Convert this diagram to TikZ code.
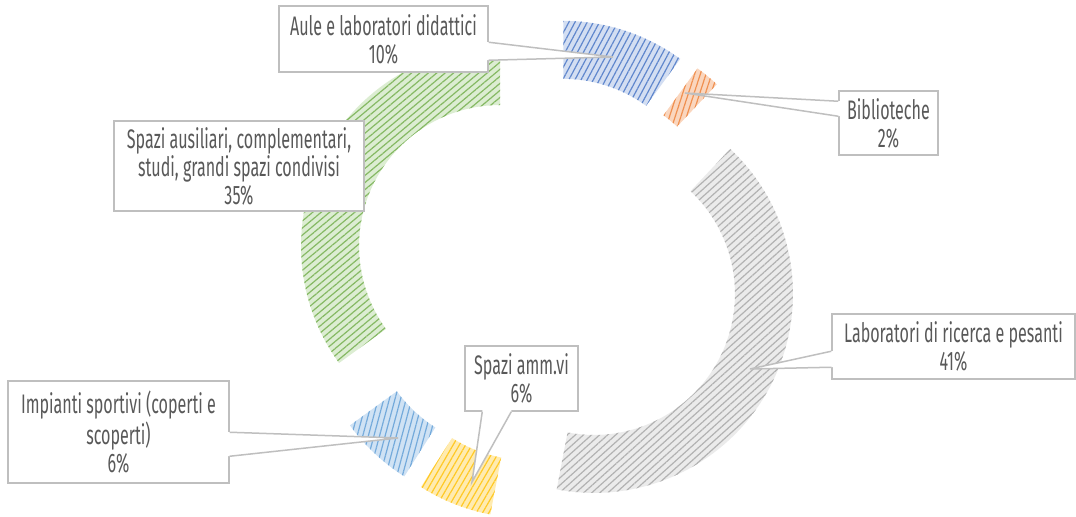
\documentclass[tikz,border=0pt]{standalone}
\usepackage{fontspec}
\setmainfont[FakeStretch=0.6]{Fira Sans}
\usetikzlibrary{calc,patterns.meta}
\definecolor{txtgray}{HTML}{595959}
\definecolor{linegray}{HTML}{BFBFBF}
\definecolor{auledk}{HTML}{4472C4}
\definecolor{aulelt}{HTML}{D3DEF2}
\definecolor{bibdk}{HTML}{ED7D31}
\definecolor{biblt}{HTML}{FAD6BE}
\definecolor{labdk}{HTML}{A5A5A5}
\definecolor{lablt}{HTML}{EBEBEB}
\definecolor{ammdk}{HTML}{FFC000}
\definecolor{ammlt}{HTML}{FFEBB0}
\definecolor{impdk}{HTML}{5B9BD5}
\definecolor{implt}{HTML}{CFE2F4}
\definecolor{ausdk}{HTML}{70AD47}
\definecolor{auslt}{HTML}{DCEDD2}
\begin{document}
\begin{tikzpicture}[x=0.5pt,y=-0.5pt,
  slice/.style 2 args={fill=#1lt,postaction={pattern={Lines[angle=#2,distance=2.7pt,line width=0.6pt]},pattern color=#1dk!85}},
  labelbox/.style={draw=linegray,fill=white,line width=0.75pt,text=txtgray,align=center,inner sep=2pt,font=\fontsize{13.4}{14}\selectfont},
  leader/.style={draw=linegray,line width=0.75pt}]

\useasboundingbox (0,0) rectangle (1076,517);

\coordinate (ctr) at (547,270);

\path[slice={aule}{62}] ($(ctr)+(-72:52.7)+(-90:199)$) arc[start angle=-90,end angle=-54,radius=199] -- ($(ctr)+(-72:52.7)+(-54:141)$) arc[start angle=-54,end angle=-90,radius=141] -- cycle;
\path[slice={bib}{72}] ($(ctr)+(-50.4:52.7)+(-54:199)$) arc[start angle=-54,end angle=-46.8,radius=199] -- ($(ctr)+(-50.4:52.7)+(-46.8:141)$) arc[start angle=-46.8,end angle=-54,radius=141] -- cycle;
\path[slice={lab}{42}] ($(ctr)+(27:52.7)+(-46.8:199)$) arc[start angle=-46.8,end angle=100.8,radius=199] -- ($(ctr)+(27:52.7)+(100.8:141)$) arc[start angle=100.8,end angle=-46.8,radius=141] -- cycle;
\path[slice={amm}{60}] ($(ctr)+(111.6:52.7)+(100.8:199)$) arc[start angle=100.8,end angle=122.4,radius=199] -- ($(ctr)+(111.6:52.7)+(122.4:141)$) arc[start angle=122.4,end angle=100.8,radius=141] -- cycle;
\path[slice={imp}{75}] ($(ctr)+(133.2:52.7)+(122.4:199)$) arc[start angle=122.4,end angle=144,radius=199] -- ($(ctr)+(133.2:52.7)+(144:141)$) arc[start angle=144,end angle=122.4,radius=141] -- cycle;
\path[slice={aus}{40}] ($(ctr)+(207:52.7)+(144:199)$) arc[start angle=144,end angle=270,radius=199] -- ($(ctr)+(207:52.7)+(270:141)$) arc[start angle=270,end angle=144,radius=141] -- cycle;

\node[labelbox,minimum width=104.5pt,minimum height=33pt] (aule) at (383.5,39) {Aule e laboratori didattici\\10\%};
\node[labelbox,minimum width=49.5pt,minimum height=32pt] (bib) at (888.5,123) {Biblioteche\\2\%};
\node[labelbox,minimum width=125pt,minimum height=45pt] (aus) at (239,166) {Spazi ausiliari, complementari,\\studi, grandi spazi condivisi\\35\%};
\node[labelbox,minimum width=121.5pt,minimum height=32.5pt] (lab) at (953.5,346.5) {Laboratori di ricerca e pesanti\\41\%};
\node[labelbox,minimum width=56.5pt,minimum height=32.5pt] (amm) at (521.5,378.5) {Spazi amm.vi\\6\%};
\node[labelbox,minimum width=110.5pt,minimum height=51pt] (imp) at (118.5,432) {Impianti sportivi (coperti e\\scoperti)\\6\%};

\coordinate (aulept) at (613,57);
\coordinate (bibpt) at (685,93);
\coordinate (labpt) at (750,369);
\coordinate (ammpt) at (472,482);
\coordinate (imppt) at (398,438);

\fill[white] ($(aule.north east)+(-3,37)$) -- ($(aule.north east)+(0,37)$) -- (aulept) -- ($(aule.north east)+(0,55)$) -- ($(aule.north east)+(-3,55)$) -- cycle;
\draw[leader] ($(aule.north east)+(0,37)$) -- (aulept) -- ($(aule.north east)+(0,55)$);

\fill[white] ($(bib.north west)+(3,11)$) -- ($(bib.north west)+(0,11)$) -- (bibpt) -- ($(bib.north west)+(0,26)$) -- ($(bib.north west)+(3,26)$) -- cycle;
\draw[leader] ($(bib.north west)+(0,11)$) -- (bibpt) -- ($(bib.north west)+(0,26)$);

\fill[white] ($(lab.north west)+(3,38)$) -- ($(lab.north west)+(0,38)$) -- (labpt) -- ($(lab.north west)+(0,54)$) -- ($(lab.north west)+(3,54)$) -- cycle;
\draw[leader] ($(lab.north west)+(0,38)$) -- (labpt) -- ($(lab.north west)+(0,54)$);

\fill[white] ($(amm.south west)+(18,-3)$) -- ($(amm.south west)+(18,0)$) -- (ammpt) -- ($(amm.south west)+(47,0)$) -- ($(amm.south west)+(47,-3)$) -- cycle;
\draw[leader] ($(amm.south west)+(18,0)$) -- (ammpt) -- ($(amm.south west)+(47,0)$);

\fill[white] ($(imp.north east)+(-3,52)$) -- ($(imp.north east)+(0,52)$) -- (imppt) -- ($(imp.north east)+(0,76)$) -- ($(imp.north east)+(-3,76)$) -- cycle;
\draw[leader] ($(imp.north east)+(0,52)$) -- (imppt) -- ($(imp.north east)+(0,76)$);

\end{tikzpicture}
\end{document}
